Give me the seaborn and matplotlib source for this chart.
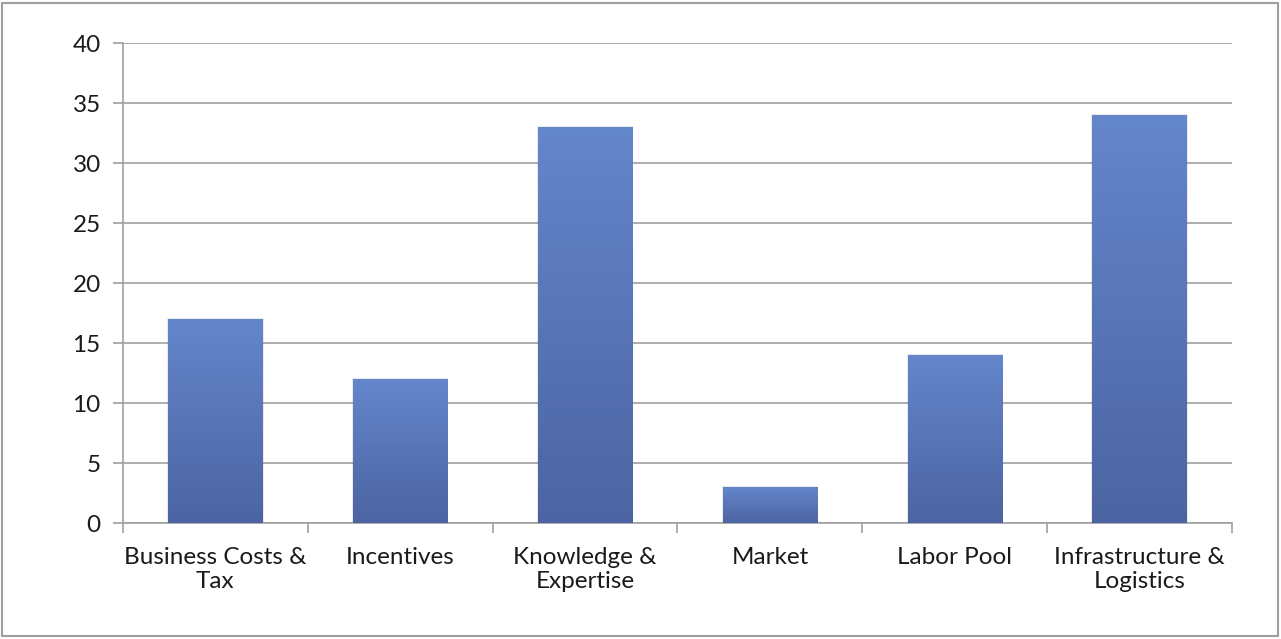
import numpy as np
import pandas as pd
import matplotlib
matplotlib.use("Agg")
import matplotlib.pyplot as plt
import seaborn as sns
from matplotlib.colors import LinearSegmentedColormap
from matplotlib.patches import Rectangle

categories = ["Business Costs &\nTax", "Incentives", "Knowledge &\nExpertise",
              "Market", "Labor Pool", "Infrastructure &\nLogistics"]
values = [17, 12, 33, 3, 14, 34]
yticks = [0, 5, 10, 15, 20, 25, 30, 35, 40]

sns.set_theme(style="white")
plt.rcParams['font.family'] = ['Lato', 'DejaVu Sans']

df = pd.DataFrame({"category": categories, "value": values})

fig = plt.figure(figsize=(12.81, 6.39), dpi=100)
ax = fig.add_axes([123/1281, 1-523/639, (1232-123)/1281, (523-43)/639])

sns.barplot(data=df, x="category", y="value", color="#5b7bc0", width=0.51,
            ax=ax, saturation=1, zorder=3)

grey = "#a0a0a0"
fs = 17.5
ax.set_ylim(0, 40)
ax.set_xlim(-0.5, len(categories) - 0.5)
ax.set_yticks(yticks)
ax.set_yticklabels([str(v) for v in yticks], fontsize=fs, color="#1a1a1a")
ax.set_xticks(np.arange(len(categories)))
ax.set_xticklabels(categories, fontsize=fs, color="#1a1a1a", linespacing=1.22)
ax.tick_params(axis="x", which="major", length=0, pad=17, bottom=True)
ax.set_xticks(np.arange(-0.5, len(categories)), minor=True)
ax.tick_params(axis="x", which="minor", length=7, color=grey, width=1.2,
               direction="out", bottom=True)
ax.tick_params(axis="y", length=7, color=grey, width=1.2, direction="out",
               pad=9, left=True)
ax.set_xlabel("")
ax.set_ylabel("")
ax.yaxis.grid(True, color=grey, linewidth=1.2, zorder=0)
ax.set_axisbelow(True)
for s in ["top", "right"]:
    ax.spines[s].set_visible(False)
for s in ["left", "bottom"]:
    ax.spines[s].set_color(grey)
    ax.spines[s].set_linewidth(1.2)

# gradient fill for bars
cmap = LinearSegmentedColormap.from_list("g", ["#4c64a2", "#6486cb"])
grad = np.linspace(0, 1, 256).reshape(-1, 1)
for p in list(ax.patches):
    x0, y0 = p.get_x(), p.get_y()
    w, h = p.get_width(), p.get_height()
    sh = Rectangle((x0 - 0.006, y0), w + 0.012, h + 0.12, facecolor="#000000",
                   alpha=0.08, edgecolor="none", zorder=2)
    ax.add_patch(sh)
    im = ax.imshow(grad, extent=[x0, x0 + w, y0, y0 + h], origin="lower",
                   cmap=cmap, aspect="auto", zorder=3.5)
    im.set_clip_path(p)
    p.set_facecolor("none")
    p.set_edgecolor("none")
ax.set_xlim(-0.5, len(categories) - 0.5)
ax.set_ylim(0, 40)

fig.add_artist(Rectangle((2/1281, 3/639), 1276/1281, 633/639, transform=fig.transFigure,
                         facecolor="none", edgecolor=grey, linewidth=1.5))

fig.savefig("out.png", dpi=100)
